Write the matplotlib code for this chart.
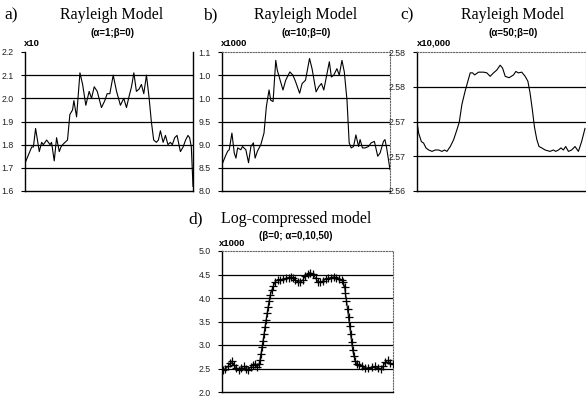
import matplotlib
matplotlib.use("Agg")
import matplotlib.pyplot as plt

# panel a: Rayleigh model, alpha=1
a_x = [0, 4.0, 5.0, 6.3, 8.5, 9.9, 10.9, 12.9, 14.9, 15.8, 17.4, 18.8, 20.4, 21.4,
       22.4, 23.8, 25.3, 26.7, 28.3, 29.1, 30.7, 32.7, 34.3, 36.2, 38.2, 39.6, 41.2,
       43.0, 45.5, 47.5, 48.9, 50.5, 52.5, 54.5, 56.8, 58.8, 60.4, 62.0, 63.4, 64.8,
       66.3, 67.9, 69.3, 70.7, 72.3, 73.9, 75.2, 76.6, 78.2, 79.4, 80.6, 82.2, 83.6,
       85.1, 86.5, 87.7, 89.1, 90.5, 92.5, 94.1, 95.6, 97.0, 98.0, 99.0, 100]
a_y = [1.72, 1.79, 1.79, 1.87, 1.77, 1.81, 1.80, 1.82, 1.80, 1.81, 1.73, 1.83, 1.77, 1.79,
       1.80, 1.81, 1.82, 1.93, 1.95, 1.99, 1.92, 2.11, 2.06, 1.97, 2.03, 2.00, 2.05,
       2.03, 1.96, 1.99, 2.02, 2.02, 2.10, 2.03, 1.97, 2.00, 1.96, 2.01, 2.05, 2.11,
       2.03, 2.04, 2.06, 2.02, 2.10, 2.00, 1.90, 1.82, 1.81, 1.82, 1.86, 1.81, 1.84,
       1.80, 1.81, 1.80, 1.83, 1.84, 1.77, 1.79, 1.82, 1.84, 1.83, 1.79, 1.62]
a_ticks = [1.6, 1.7, 1.8, 1.9, 2.0, 2.1, 2.2]
a_labels = ["1.6", "1.7", "1.8", "1.9", "2.0", "2.1", "2.2"]

# panel b: Rayleigh model, alpha=10
b_x = [0, 2.0, 3.4, 4.3, 5.9, 7.3, 8.3, 9.3, 11.2, 12.2, 14.2, 15.8, 17.2, 18.7, 19.7,
       21.1, 23.1, 25.0, 26.4, 28.0, 29.0, 30.4, 32.0, 32.9, 34.3, 36.3, 37.9, 40.4,
       42.2, 43.8, 46.2, 47.7, 49.7, 52.1, 53.6, 56.0, 57.6, 59.2, 60.6, 62.1, 63.9,
       65.1, 66.5, 68.4, 69.8, 71.4, 72.8, 74.4, 75.7, 76.9, 78.3, 79.7, 81.3, 82.2,
       83.6, 85.2, 87.2, 88.8, 90.7, 92.7, 94.1, 96.1, 97.0, 98.0, 100]
b_y = [8.57, 8.75, 8.86, 8.89, 9.25, 8.82, 8.71, 8.93, 8.89, 8.96, 8.89, 8.61, 8.96, 9.04,
       8.71, 8.86, 9.00, 9.25, 9.82, 10.18, 9.96, 9.93, 10.82, 10.61, 10.43, 10.18,
       10.39, 10.57, 10.50, 10.36, 10.11, 10.32, 10.39, 10.86, 10.64, 10.14, 10.25,
       10.32, 10.18, 10.46, 10.79, 10.46, 10.50, 10.64, 10.50, 10.82, 10.57, 9.96,
       9.04, 8.93, 8.96, 9.21, 8.96, 9.11, 8.93, 8.93, 8.96, 9.04, 9.07, 8.75, 8.82,
       9.07, 9.11, 8.93, 8.46]
b_ticks = [8.0, 8.5, 9.0, 9.5, 10.0, 10.5, 11.0]
b_labels = ["8.0", "8.5", "9.0", "9.5", "1.0", "1.0", "1.1"]

# panel c: Rayleigh model, alpha=50
c_x = [0, 1, 2.6, 3.9, 5.3, 6.9, 8.9, 10.8, 12.8, 14.8, 16.3, 17.7, 19.7, 21.7, 23.6,
       25.0, 26.6, 28.5, 30.1, 31.5, 32.9, 34.1, 36.4, 39.4, 41.3, 43.3, 45.3, 47.2,
       49.2, 50.6, 52.2, 54.5, 57.1, 58.5, 60.0, 62.0, 64.0, 65.6, 66.9, 68.3, 69.5,
       70.9, 72.2, 73.8, 75.8, 78.7, 80.7, 82.1, 83.7, 85.2, 86.6, 88.0, 89.6, 91.5,
       93.5, 95.5, 97.4, 99.4]
c_y = [2.5699, 2.5683, 2.5671, 2.5669, 2.5662, 2.5659, 2.5657, 2.5659, 2.5659, 2.5657,
       2.5659, 2.5657, 2.5664, 2.5674, 2.5688, 2.5699, 2.5725, 2.5744, 2.5758, 2.5770,
       2.5770, 2.5767, 2.5771, 2.5771, 2.5770, 2.5765, 2.5770, 2.5774, 2.5781, 2.5777,
       2.5765, 2.5763, 2.5767, 2.5772, 2.5770, 2.5771, 2.5765, 2.5758, 2.5741, 2.5716,
       2.5692, 2.5674, 2.5664, 2.5662, 2.5659, 2.5657, 2.5659, 2.5657, 2.5659, 2.5662,
       2.5659, 2.5664, 2.5657, 2.5659, 2.5664, 2.5657, 2.5671, 2.5690]
c_ticks = [2.560, 2.565, 2.570, 2.575, 2.580]
c_labels = ["2.56", "2.57", "2.57", "2.58", "2.58"]

# panel d: log-compressed model
d_x = [0.4, 2.0, 3.5, 4.9, 5.9, 6.9, 8.3, 9.8, 11.2, 12.8, 14.2, 15.4, 16.7, 18.1, 19.3,
       20.7, 21.7, 22.2, 22.8, 23.4, 24.0, 24.6, 25.2, 25.8, 26.4, 27.0, 27.6, 28.3,
       29.1, 30.1, 31.1, 32.5, 34.1, 35.8, 37.4, 39.0, 40.4, 41.7, 42.9, 44.3, 45.7,
       47.2, 48.8, 50.2, 51.6, 53.1, 54.7, 56.1, 57.5, 59.1, 60.6, 62.2, 64.0, 65.4,
       66.9, 68.5, 69.9, 70.9, 71.7, 72.2, 72.8, 73.4, 74.0, 74.6, 75.2, 75.8, 76.4,
       77.2, 78.0, 78.7, 80.3, 81.9, 83.7, 85.6, 87.6, 89.6, 91.5, 92.9, 94.1, 95.5,
       96.9, 98.4, 100]
d_y = [2.474, 2.495, 2.544, 2.615, 2.657, 2.565, 2.516, 2.474, 2.516, 2.544, 2.495,
       2.474, 2.530, 2.565, 2.601, 2.530, 2.601, 2.685, 2.812, 2.953, 3.095, 3.236,
       3.391, 3.532, 3.673, 3.815, 3.941, 4.068, 4.167, 4.259, 4.344, 4.393, 4.393,
       4.400, 4.421, 4.435, 4.450, 4.421, 4.379, 4.344, 4.337, 4.379, 4.471, 4.520,
       4.541, 4.506, 4.421, 4.351, 4.330, 4.365, 4.400, 4.421, 4.435, 4.450, 4.435,
       4.400, 4.379, 4.330, 4.238, 4.097, 3.941, 3.765, 3.589, 3.412, 3.236, 3.059,
       2.897, 2.756, 2.657, 2.601, 2.579, 2.544, 2.509, 2.516, 2.530, 2.544, 2.516,
       2.488, 2.544, 2.636, 2.671, 2.615, 2.586]
d_ticks = [2.0, 2.5, 3.0, 3.5, 4.0, 4.5, 5.0]
d_labels = ["2.0", "2.5", "3.0", "3.5", "4.0", "4.5", "5.0"]

W, H = 586, 398
fig = plt.figure(figsize=(W / 100, H / 100), dpi=100)


def px_axes(l, t, r, b):
    return fig.add_axes([l / W, 1 - b / H, (r - l) / W, (b - t) / H])


def style(ax, ticks, labels, solid_right=False):
    ax.set_xlim(0, 100)
    ax.set_ylim(ticks[0], ticks[-1])
    ax.set_yticks(ticks)
    ax.set_yticklabels(labels, family="Liberation Sans", fontsize=6.3, color="#222222")
    ax.set_xticks([])
    ax.tick_params(axis="y", length=3, width=0.8, pad=5)
    for t in ticks[1:-1]:
        ax.axhline(t, color="black", lw=0.9, zorder=1)
    ax.spines["left"].set_linewidth(1.0)
    ax.spines["bottom"].set_linewidth(1.0)
    if solid_right:
        ax.spines["right"].set_linewidth(1.0)
        ax.spines["top"].set_visible(False)
    else:
        for s in ("top", "right"):
            ax.spines[s].set_linestyle((0, (1, 1.5)))
            ax.spines[s].set_color("#666666")
            ax.spines[s].set_linewidth(0.8)


def fig_text(x, y, s, **kw):
    fig.text(x / W, 1 - y / H, s, **kw)


def heading(letter, lx, cx, title, sub, mult, mx, ty, sy, my):
    fig_text(lx, ty, letter, family="Liberation Serif", fontsize=12.5, ha="left", va="center")
    fig_text(cx, ty, title, family="Liberation Serif", fontsize=11.5, ha="center", va="center")
    fig_text(cx, sy, sub, family="Liberation Sans", fontsize=7, weight="bold",
             ha="center", va="center")
    fig_text(mx, my, mult, family="Liberation Sans", fontsize=6.8, weight="bold",
             ha="left", va="center")


ax_a = px_axes(25, 52, 193, 191)
ax_a.plot(a_x, a_y, color="black", lw=0.8, zorder=3)
style(ax_a, a_ticks, a_labels, solid_right=True)
heading("a)", 4, 112, "Rayleigh Model", "(α=1;β=0)", "x10", 24, 15, 33, 43)

ax_b = px_axes(222, 52, 390, 191)
ax_b.plot(b_x, b_y, color="black", lw=0.8, zorder=3)
style(ax_b, b_ticks, b_labels)
heading("b)", 203, 306, "Rayleigh Model", "(α=10;β=0)", "x1000", 221, 15, 33, 43)

ax_c = px_axes(417, 52, 586, 191)
ax_c.plot(c_x, c_y, color="black", lw=0.8, zorder=3)
style(ax_c, c_ticks, c_labels)
heading("c)", 400, 513, "Rayleigh Model", "(α=50;β=0)", "x10,000", 417, 15, 33, 43)

ax_d = px_axes(222, 251, 393, 392)
ax_d.plot(d_x, d_y, color="black", lw=0.8, marker="+", markersize=5.5,
          markeredgewidth=0.9, zorder=3)
style(ax_d, d_ticks, d_labels)
heading("d)", 188, 296, "Log-compressed model", "(β=0; α=0,10,50)", "x1000", 219,
        219, 236, 244)

fig.savefig("out.png", dpi=100)
